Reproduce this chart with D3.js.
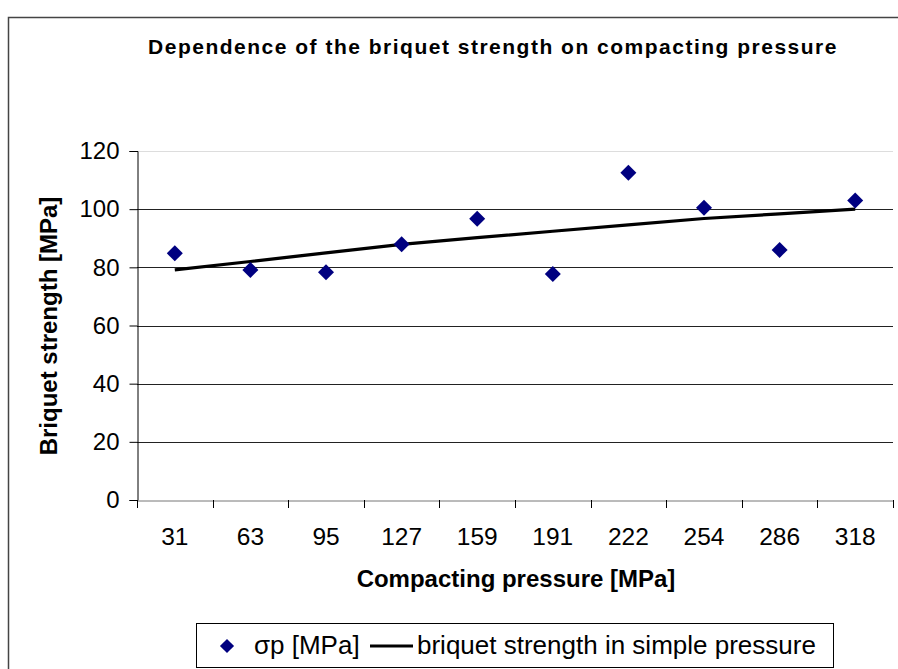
<!DOCTYPE html>
<html>
<head>
<meta charset="utf-8">
<script src="https://cdn.jsdelivr.net/npm/d3@7"></script>
<style>
  body { margin: 0; background: #fff; }
  svg text { font-family: "Liberation Sans", Arial, sans-serif; fill: #000; }
</style>
</head>
<body>
<script>
// chart data
const pressures = ["31", "63", "95", "127", "159", "191", "222", "254", "286", "318"];
const strength = [84.8, 79.1, 78.3, 87.9, 96.7, 77.7, 112.5, 100.5, 86.0, 103.0];
const simpleStrength = [79.1, 82.0, 85.0, 87.9, 90.2, 92.4, 94.6, 96.8, 98.4, 100.0];
const yTicks = [0, 20, 40, 60, 80, 100, 120];

const svg = d3.select("body").append("svg")
  .attr("width", 898)
  .attr("height", 669);

// outer chart border
svg.append("rect")
  .attr("x", 8.5).attr("y", 17.5)
  .attr("width", 900).attr("height", 700)
  .attr("fill", "none")
  .attr("stroke", "#444")
  .attr("stroke-width", 1.5);

let x = d3.scaleBand().domain(pressures).range([137, 893]);
let y = d3.scaleLinear().domain([0, 120]).range([500, 151]);
let cx = (d) => x(d) + x.bandwidth() / 2;

// gridlines
svg.append("g").selectAll("line")
  .data(yTicks.filter((t) => t > 0))
  .enter().append("line")
    .attr("x1", 137).attr("x2", 893)
    .attr("y1", (d) => Math.round(y(d)) + 0.5)
    .attr("y2", (d) => Math.round(y(d)) + 0.5)
    .attr("stroke", (d) => d == 120 ? "#ddd" : "#222")
    .attr("stroke-width", 1);

// y axis
let yAxis = d3.axisLeft(y).tickValues(yTicks).tickSize(8).tickPadding(10);
let gy = svg.append("g")
  .attr("transform", "translate(137.5,0)")
  .call(yAxis);
gy.select(".domain").attr("stroke", "#000");
gy.selectAll("text")
  .style("font-size", "24px")
  .attr("font-family", null);

// x axis: labels centred, ticks on the category boundaries
let xAxis = d3.axisBottom(x).tickSize(0).tickPadding(27);
let gx = svg.append("g")
  .attr("transform", "translate(0,500.5)")
  .call(xAxis);
gx.select(".domain").attr("stroke", "#777");
gx.selectAll("text")
  .style("font-size", "24.5px")
  .attr("font-family", null);

svg.append("g").selectAll("line")
  .data(pressures.map((p) => x(p)).concat([893]))
  .enter().append("line")
    .attr("x1", (d) => Math.round(d) + 0.5)
    .attr("x2", (d) => Math.round(d) + 0.5)
    .attr("y1", 500).attr("y2", 508)
    .attr("stroke", "#000");

// trend series
let line = d3.line()
  .x((d, i) => cx(pressures[i]))
  .y((d) => y(d));

svg.append("path")
  .datum(simpleStrength)
  .attr("d", line)
  .attr("fill", "none")
  .attr("stroke", "#000")
  .attr("stroke-width", 3.2);

// measured points as diamonds
let diamond = d3.symbol().type(d3.symbolSquare).size(128);
svg.selectAll(".dot")
  .data(strength)
  .enter().append("path")
    .attr("class", "dot")
    .attr("d", diamond)
    .attr("transform", (d, i) => "translate(" + cx(pressures[i]) + "," + y(d) + ") rotate(45)")
    .attr("fill", "#000080");

// titles
svg.append("text")
  .attr("x", 493).attr("y", 54)
  .attr("text-anchor", "middle")
  .style("font-size", "21px")
  .style("font-weight", "bold")
  .style("letter-spacing", "1.5px")
  .text("Dependence of the briquet strength on compacting pressure");

svg.append("text")
  .attr("x", 516).attr("y", 587)
  .attr("text-anchor", "middle")
  .style("font-size", "24px")
  .style("font-weight", "bold")
  .text("Compacting pressure [MPa]");

svg.append("text")
  .attr("transform", "translate(57,326) rotate(-90)")
  .attr("text-anchor", "middle")
  .style("font-size", "24px")
  .style("font-weight", "bold")
  .text("Briquet strength [MPa]");

// legend
let legend = svg.append("g");
legend.append("rect")
  .attr("x", 196.5).attr("y", 623.5)
  .attr("width", 637).attr("height", 44)
  .attr("fill", "#fff")
  .attr("stroke", "#000");
legend.append("path")
  .attr("d", d3.symbol().type(d3.symbolSquare).size(100))
  .attr("transform", "translate(227,646) rotate(45)")
  .attr("fill", "#000080");
legend.append("text")
  .attr("x", 254).attr("y", 654)
  .style("font-size", "26px")
  .text("σp [MPa]");
legend.append("line")
  .attr("x1", 370).attr("x2", 413)
  .attr("y1", 646).attr("y2", 646)
  .attr("stroke", "#000")
  .attr("stroke-width", 3.2);
legend.append("text")
  .attr("x", 417).attr("y", 654)
  .style("font-size", "26px")
  .text("briquet strength in simple pressure");
</script>
</body>
</html>
